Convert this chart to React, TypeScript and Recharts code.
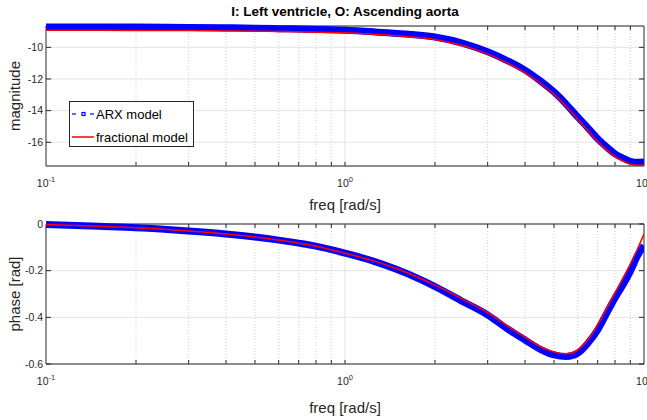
import React from 'react';
import { LineChart, Line, XAxis, YAxis, CartesianGrid, ReferenceLine, ReferenceArea, Label } from 'recharts';

// frequencies [rad/s]
const freq = [0.1, 0.15, 0.2, 0.3, 0.4, 0.5, 0.6, 0.7, 0.8, 0.9, 1, 1.25, 1.5, 2, 2.5, 3, 3.5, 4, 4.5, 5, 5.5, 6, 6.5, 7, 7.5, 8, 8.5, 9, 9.5, 10];

const arxMag = [-8.71, -8.71, -8.72, -8.74, -8.76, -8.79, -8.82, -8.84, -8.87, -8.89, -8.92, -9.02, -9.12, -9.35, -9.76, -10.28, -10.85, -11.44, -12.12, -12.82, -13.6, -14.4, -15.1, -15.78, -16.3, -16.73, -17.0, -17.2, -17.27, -17.25];
const fracMag = [-8.92, -8.92, -8.93, -8.94, -8.96, -8.98, -9.0, -9.02, -9.04, -9.06, -9.08, -9.17, -9.27, -9.5, -9.92, -10.43, -11.0, -11.6, -12.27, -12.97, -13.75, -14.55, -15.27, -15.95, -16.48, -16.9, -17.18, -17.38, -17.45, -17.43];

const arxPhase = [-0.002, -0.01, -0.016, -0.03, -0.043, -0.056, -0.069, -0.082, -0.095, -0.11, -0.125, -0.16, -0.196, -0.268, -0.335, -0.39, -0.45, -0.497, -0.537, -0.561, -0.568, -0.554, -0.51, -0.454, -0.383, -0.317, -0.262, -0.203, -0.138, -0.092];
const fracPhase = [-0.002, -0.01, -0.016, -0.03, -0.043, -0.056, -0.069, -0.082, -0.095, -0.11, -0.125, -0.158, -0.193, -0.262, -0.325, -0.38, -0.438, -0.485, -0.525, -0.548, -0.556, -0.54, -0.495, -0.432, -0.362, -0.295, -0.232, -0.172, -0.108, -0.043];

const freqTicks = [0.1, 1, 10];
const minorFreqs = [0.2, 0.3, 0.4, 0.5, 0.6, 0.7, 0.8, 0.9, 2, 3, 4, 5, 6, 7, 8, 9];
const magTicks = [-16, -14, -12, -10];
const phaseTicks = [-0.6, -0.4, -0.2, 0];

const magData = freq.map((f, i) => ({ f, arx: arxMag[i], frac: fracMag[i] }));
const phaseData = freq.map((f, i) => ({ f, arx: arxPhase[i], frac: fracPhase[i] }));

const FONT = "'Liberation Sans', Arial, Helvetica, sans-serif";
const AXIS = '#262626';
const GRID = '#e3e3e3';
const BLUE = '#0000ff';
const RED = '#ff0000';

const PowerTick = (props: any) => {
  const { x, y, payload } = props;
  const exp = Math.round(Math.log10(payload.value));
  return (
    <text x={x} y={y + 21} textAnchor="middle" fontSize={10.5} fill={AXIS} fontFamily={FONT}>
      10<tspan dy={-5} fontSize={7.5}>{exp}</tspan>
    </text>
  );
};

// box, grid and inward ticks like matlab's axes
function frame(yMin: number, yMax: number, yTicks: number[], tickY: number) {
  const items: React.ReactNode[] = [];
  minorFreqs.forEach((f) => {
    items.push(<ReferenceLine key={'g' + f} x={f} stroke="#cfcfcf" strokeDasharray="1 2" />);
  });
  items.push(<ReferenceLine key="g1" x={1} stroke={GRID} />);
  [...minorFreqs, 1].forEach((f) => {
    items.push(<ReferenceLine key={'b' + f} segment={[{ x: f, y: yMin }, { x: f, y: yMin + tickY }]} stroke={AXIS} />);
    items.push(<ReferenceLine key={'t' + f} segment={[{ x: f, y: yMax }, { x: f, y: yMax - tickY }]} stroke={AXIS} />);
  });
  yTicks.forEach((v) => {
    items.push(<ReferenceLine key={'l' + v} segment={[{ x: 0.1, y: v }, { x: 0.104, y: v }]} stroke={AXIS} />);
    items.push(<ReferenceLine key={'r' + v} segment={[{ x: 9.62, y: v }, { x: 10, y: v }]} stroke={AXIS} />);
  });
  items.push(<ReferenceArea key="box" x1={0.1} x2={10} y1={yMin} y2={yMax} fill="none" stroke={AXIS} strokeWidth={1} />);
  return items;
}

const yLabel = (text: string) => (props: any) => {
  const { viewBox } = props;
  const cy = viewBox.y + viewBox.height / 2;
  return (
    <text x={20} y={cy} transform={`rotate(-90, 20, ${cy})`} textAnchor="middle" fontSize={15} fill={AXIS} fontFamily={FONT}>
      {text}
    </text>
  );
};

const xLabel = (dy: number) => (props: any) => {
  const { viewBox } = props;
  return (
    <text x={viewBox.x + viewBox.width / 2} y={viewBox.y + dy} textAnchor="middle" fontSize={15} fill={AXIS} fontFamily={FONT}>
      freq [rad/s]
    </text>
  );
};

const tickStyle = { fontSize: 10.5, fill: AXIS, fontFamily: FONT };

const Panel = ({ data, height, top, xAxisH, yDomain, yTicks, tickY, ylab, labDy }: any) => (
  <LineChart width={647} height={height} data={data} margin={{ top, right: 3, bottom: 0, left: 0 }}>
    <CartesianGrid vertical={false} stroke={GRID} />
    <XAxis
      dataKey="f"
      type="number"
      scale="log"
      domain={[0.1, 10]}
      allowDataOverflow
      ticks={freqTicks}
      interval={0}
      axisLine={false}
      tickLine={false}
      tickSize={0}
      tickMargin={0}
      height={xAxisH}
      tick={<PowerTick />}
    >
      <Label content={xLabel(labDy)} />
    </XAxis>
    <YAxis
      type="number"
      domain={yDomain}
      ticks={yTicks}
      interval={0}
      axisLine={false}
      tickLine={false}
      tickSize={0}
      tickMargin={3}
      width={46}
      tick={tickStyle}
    >
      <Label content={yLabel(ylab)} />
    </YAxis>
    {frame(yDomain[0], yDomain[1], yTicks, tickY)}
    <Line type="monotone" dataKey="arx" stroke={BLUE} strokeWidth={7} dot={false} isAnimationActive={false} />
    <Line type="monotone" dataKey="frac" stroke={RED} strokeWidth={1.5} dot={false} isAnimationActive={false} />
  </LineChart>
);

const App = () => (
  <div style={{ position: 'absolute', left: 0, top: 0, width: 647, height: 420, background: '#fff', fontFamily: FONT }}>
    <div style={{ position: 'absolute', left: 46, width: 598, top: 2, textAlign: 'center', fontWeight: 'bold', fontSize: 13.5, lineHeight: '20px', color: '#000' }}>
      I: Left ventricle, O: Ascending aorta
    </div>
    <div style={{ position: 'absolute', left: 0, top: 0 }}>
      <Panel data={magData} height={215} top={26} xAxisH={49} yDomain={[-17.5, -8.65]} yTicks={magTicks} tickY={0.26} ylab="magnitude" labDy={44} />
    </div>
    <div style={{ position: 'absolute', left: 0, top: 215 }}>
      <Panel data={phaseData} height={205} top={9} xAxisH={56} yDomain={[-0.6, 0]} yTicks={phaseTicks} tickY={0.017} ylab="phase [rad]" labDy={49} />
    </div>
    <div style={{ position: 'absolute', left: 69, top: 101, width: 125, height: 46, border: `1px solid ${AXIS}`, background: '#fff', boxSizing: 'border-box' }}>
      <svg width={123} height={44} style={{ position: 'absolute', left: 0, top: 0 }}>
        <line x1={2} y1={12} x2={6} y2={12} stroke={BLUE} strokeWidth={1.2} />
        <rect x={12} y={10.5} width={3} height={3} fill="none" stroke={BLUE} strokeWidth={1.2} />
        <line x1={20} y1={12} x2={24} y2={12} stroke={BLUE} strokeWidth={1.2} />
        <text x={26} y={17} fontSize={13} fill="#000" fontFamily={FONT}>ARX model</text>
        <line x1={2} y1={35} x2={24} y2={35} stroke={RED} strokeWidth={1.5} />
        <text x={26} y={40} fontSize={13} fill="#000" fontFamily={FONT}>fractional model</text>
      </svg>
    </div>
  </div>
);

export default App;
